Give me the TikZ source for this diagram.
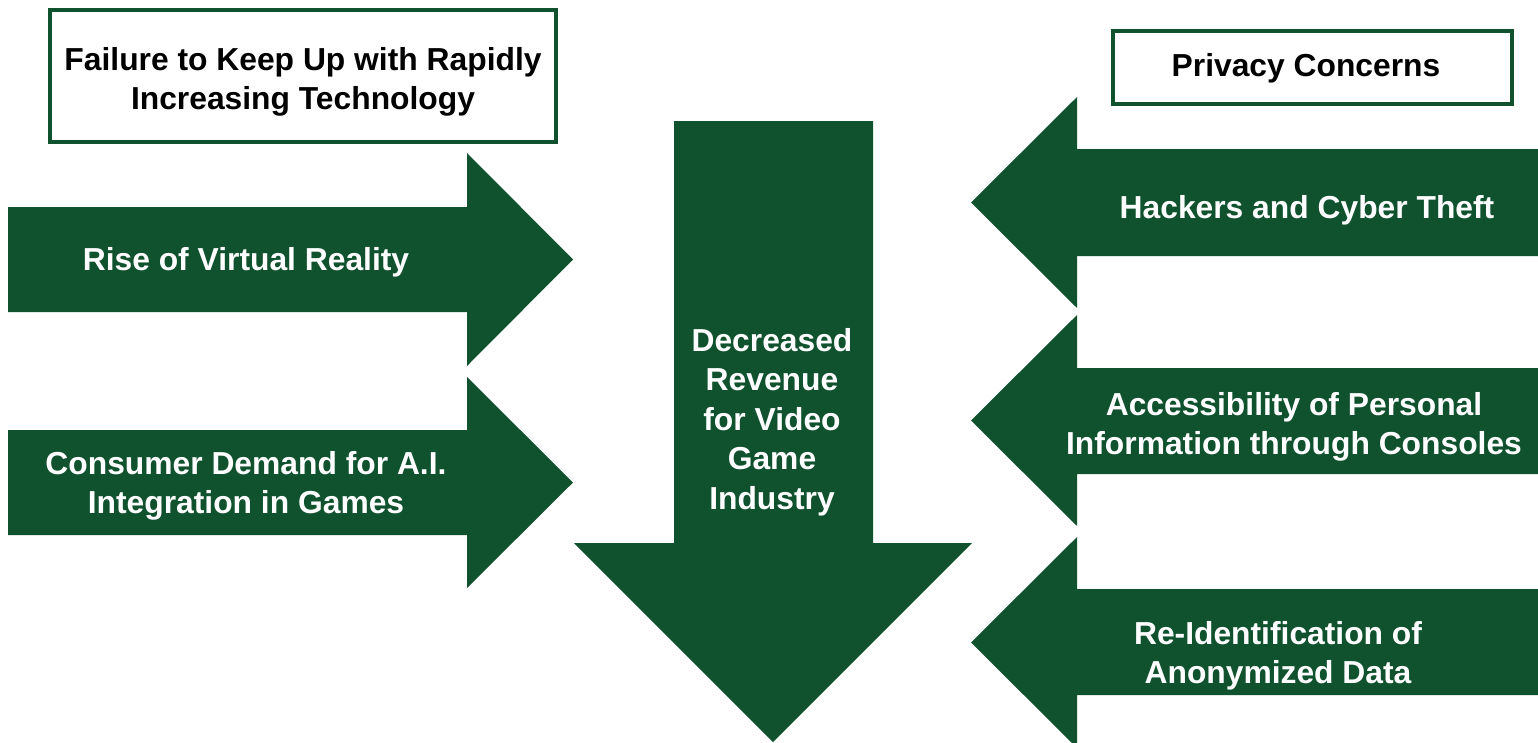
\documentclass[tikz,border=0pt]{standalone}
\usepackage{fontspec}
\setmainfont{Liberation Sans}
\begin{document}
\begin{tikzpicture}[x=1pt,y=-1pt,
  arrowfill/.style={fill=forest,draw=none},
  titlebox/.style={draw=forest,line width=4pt,fill=white},
  lbl/.style={text=white,font=\fontsize{31.8}{39.5}\selectfont\bfseries,align=center,inner sep=0pt},
  head/.style={text=black,font=\fontsize{31.8}{39.5}\selectfont\bfseries,align=center,inner sep=0pt}]
\definecolor{forest}{RGB}{15,82,45}
\useasboundingbox (0,0) rectangle (1538,742);

% heading boxes
\draw[titlebox] (50,10) rectangle (556,142);
\node[head] (tech) at (303,82) {Failure to Keep Up with Rapidly\\Increasing Technology};
\draw[titlebox] (1113,31) rectangle (1512,104);
\node[head] (privacy) at (1306,68.5) {Privacy Concerns};

% arrows pointing right
\fill[arrowfill] (8,207) -- (467,207) -- (467,153) -- (573,259.5) -- (467,366) -- (467,312) -- (8,312) -- cycle;
\node[lbl] (vr) at (246,262) {Rise of Virtual Reality};
\fill[arrowfill] (8,430) -- (467,430) -- (467,377) -- (573,482.5) -- (467,588) -- (467,535) -- (8,535) -- cycle;
\node[lbl] (ai) at (246,486) {Consumer Demand for A.I.\\Integration in Games};

% central downward arrow
\fill[arrowfill] (674,121) -- (873,121) -- (873,543) -- (972,543) -- (773,742) -- (574,543) -- (674,543) -- cycle;
\node[lbl] (revenue) at (772,422) {Decreased\\Revenue\\for Video\\Game\\Industry};

% arrows pointing left
\fill[arrowfill] (1538,149) -- (1077,149) -- (1077,97) -- (971,202.5) -- (1077,308) -- (1077,256) -- (1538,256) -- cycle;
\node[lbl] (hack) at (1307,210) {Hackers and Cyber Theft};
\fill[arrowfill] (1538,368) -- (1077,368) -- (1077,315) -- (971,420.5) -- (1077,526) -- (1077,474) -- (1538,474) -- cycle;
\node[lbl] (access) at (1294,427) {Accessibility of Personal\\Information through Consoles};
\fill[arrowfill] (1538,589) -- (1077,589) -- (1077,537) -- (971,642.5) -- (1077,748) -- (1077,695) -- (1538,695) -- cycle;
\node[lbl] (reid) at (1278,656) {Re-Identification of\\Anonymized Data};
\end{tikzpicture}
\end{document}
